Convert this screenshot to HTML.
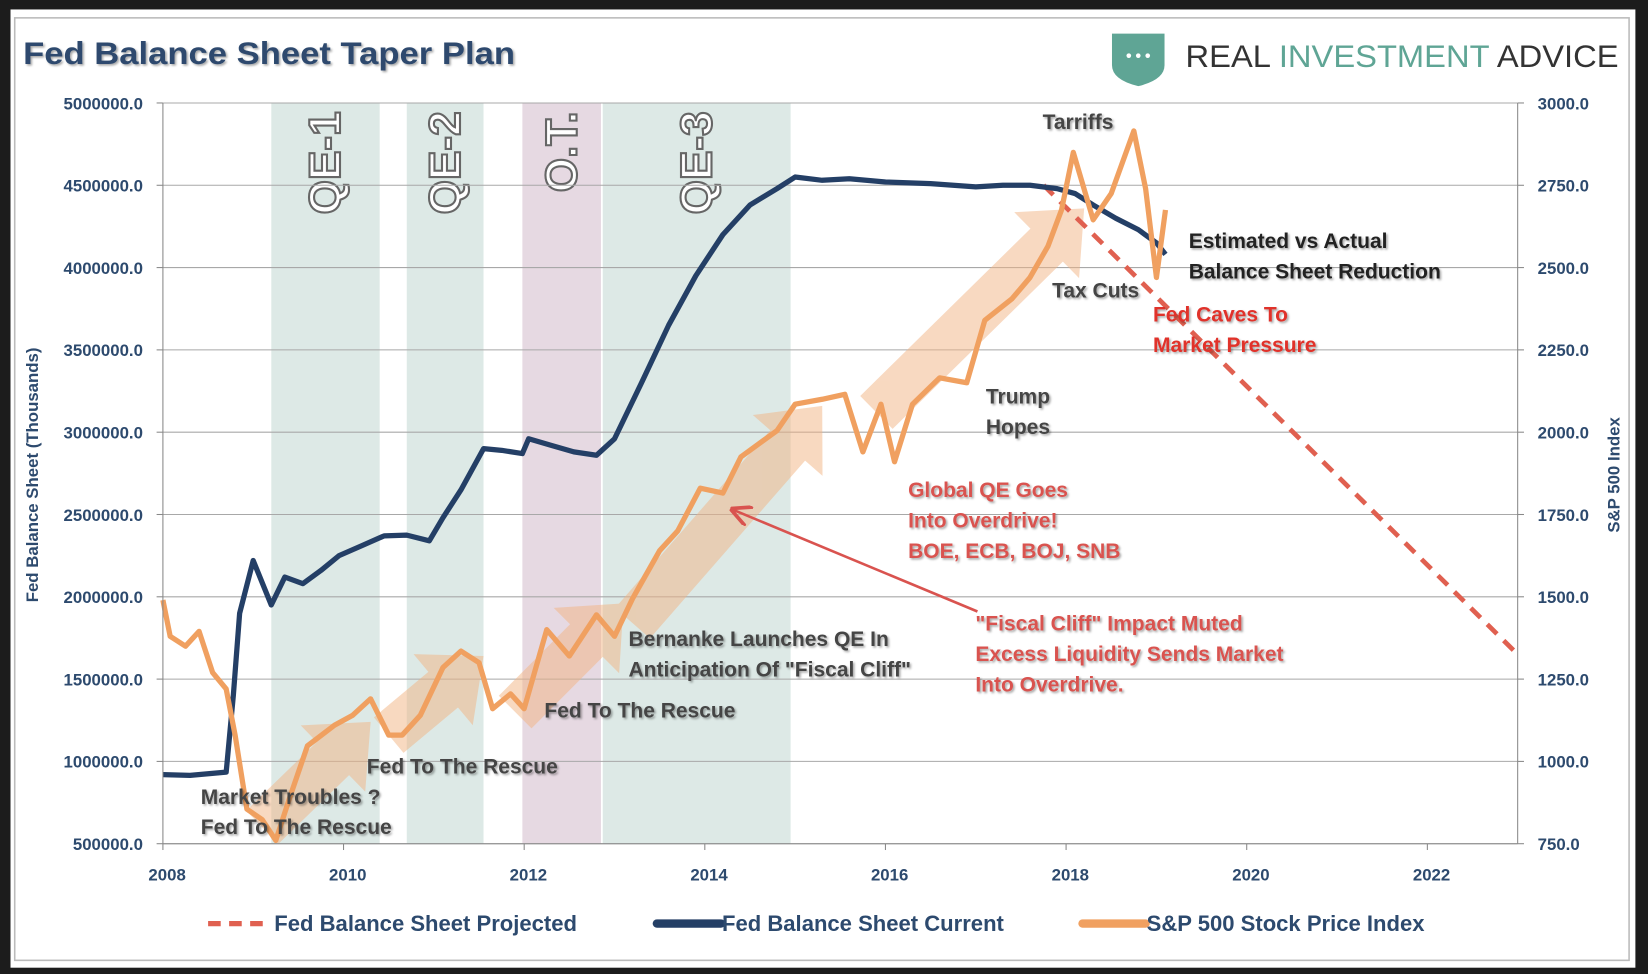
<!DOCTYPE html>
<html><head><meta charset="utf-8"><style>
html,body{margin:0;padding:0;background:#1c1c1c;}
svg{display:block;}
text{font-family:"Liberation Sans",sans-serif;}
.ann{font-weight:bold;font-size:20px;}
.tick{font-weight:bold;font-size:16px;fill:#2d4a6e;}
</style></head><body>
<svg id="chart" width="1648" height="974" viewBox="0 0 1568 927" preserveAspectRatio="none" xmlns="http://www.w3.org/2000/svg">
<defs>
<filter id="sh" x="-5%" y="-20%" width="110%" height="140%"><feDropShadow dx="1.5" dy="1.5" stdDeviation="1" flood-color="#000" flood-opacity="0.35"/></filter>
<marker id="ah" markerWidth="8" markerHeight="8" refX="7" refY="4" orient="auto"><path d="M0,0 L8,4 L0,8" fill="none" stroke="#d9534f" stroke-width="1.4"/></marker>
</defs>
<rect x="0" y="0" width="1568" height="927" fill="#1c1c1c"/>
<rect x="10" y="9" width="1546" height="912" fill="#fff"/>
<rect x="14" y="17" width="1536" height="897" fill="none" stroke="#bbb" stroke-width="1.5"/>
<text x="22" y="61" font-size="30" font-weight="bold" fill="#2d4a6e" textLength="468" lengthAdjust="spacingAndGlyphs" filter="url(#sh)">Fed Balance Sheet Taper Plan</text>
<g>
<path d="M1058,32 L1108,32 L1108,62 Q1108,76 1083,82 Q1058,76 1058,62 Z" fill="#5fa595"/>
<circle cx="1074" cy="53" r="2.2" fill="#fff"/><circle cx="1083" cy="53" r="2.2" fill="#fff"/><circle cx="1092" cy="53" r="2.2" fill="#fff"/>
<text x="1128" y="64" font-size="30" textLength="412" lengthAdjust="spacingAndGlyphs"><tspan fill="#333">REAL </tspan><tspan fill="#5fa595">INVESTMENT</tspan><tspan fill="#333"> ADVICE</tspan></text>
</g>
<g id="bands"></g>
<g id="grid"></g>
<g id="arrows" opacity="0.5"></g>
<g id="series"></g>
<g id="axes"></g>
<g id="labels">
<text transform="translate(36,452) rotate(-90)" text-anchor="middle" font-size="16" font-weight="bold" fill="#2d4a6e">Fed Balance Sheet (Thousands)</text>
<text transform="translate(1541,452) rotate(-90)" text-anchor="middle" font-size="16" font-weight="bold" fill="#2d4a6e">S&amp;P 500 Index</text>
</g>
<g id="notes" filter="url(#sh)">
<text class="ann" x="992" y="123" fill="#444">Tarriffs</text>
<text class="ann" x="1131" y="236" fill="#222">Estimated vs Actual</text>
<text class="ann" x="1131" y="265" fill="#222">Balance Sheet Reduction</text>
<text class="ann" x="1001" y="283" fill="#444">Tax Cuts</text>
<text class="ann" x="1097" y="306" fill="#e0302a">Fed Caves To</text>
<text class="ann" x="1097" y="335" fill="#e0302a">Market Pressure</text>
<text class="ann" x="938" y="384" fill="#444">Trump</text>
<text class="ann" x="938" y="413" fill="#444">Hopes</text>
<text class="ann" x="864" y="473" fill="#d9534f">Global QE Goes</text>
<text class="ann" x="864" y="502" fill="#d9534f">Into Overdrive!</text>
<text class="ann" x="864" y="531" fill="#d9534f">BOE, ECB, BOJ, SNB</text>
<text class="ann" x="928" y="600" fill="#d9534f">"Fiscal Cliff" Impact Muted</text>
<text class="ann" x="928" y="629" fill="#d9534f">Excess Liquidity Sends Market</text>
<text class="ann" x="928" y="658" fill="#d9534f">Into Overdrive.</text>
<text class="ann" x="598" y="615" fill="#444">Bernanke Launches QE In</text>
<text class="ann" x="598" y="644" fill="#444">Anticipation Of "Fiscal Cliff"</text>
<text class="ann" x="518" y="683" fill="#444">Fed To The Rescue</text>
<text class="ann" x="349" y="736" fill="#444">Fed To The Rescue</text>
<text class="ann" x="191" y="765" fill="#444">Market Troubles ?</text>
<text class="ann" x="191" y="794" fill="#444">Fed To The Rescue</text>
</g>
<line x1="930" y1="582" x2="697" y2="485" stroke="#d9534f" stroke-width="2.5" marker-end="url(#ah)"/>
<g id="legend" font-size="21" font-weight="bold" fill="#2d4a6e">
<line x1="198" y1="879" x2="258" y2="879" stroke="#e06050" stroke-width="5" stroke-dasharray="12,8"/>
<text x="261" y="886">Fed Balance Sheet Projected</text>
<line x1="625" y1="879" x2="686" y2="879" stroke="#243f66" stroke-width="8" stroke-linecap="round"/>
<text x="687" y="886">Fed Balance Sheet Current</text>
<line x1="1030" y1="879" x2="1090" y2="879" stroke="#f0a060" stroke-width="8" stroke-linecap="round"/>
<text x="1091" y="886">S&amp;P 500 Stock Price Index</text>
</g>
</svg>
<script>
const leftTicks=[500000,1000000,1500000,2000000,2500000,3000000,3500000,4000000,4500000,5000000];
const rightTicks=[750,1000,1250,1500,1750,2000,2250,2500,2750,3000];
const yearTicks=[2008,2010,2012,2014,2016,2018,2020,2022];
const bandNames=["QE-1","QE-2","O.T.","QE-3"];
const bandStart=[2009.2,2010.7,2011.98,2012.87];
const bandEnd=[2010.4,2011.55,2012.85,2014.95];
const fedYears=[2008.0,2008.3,2008.5,2008.7,2008.78,2008.85,2009.0,2009.2,2009.35,2009.55,2009.75,2009.95,2010.2,2010.45,2010.7,2010.95,2011.1,2011.3,2011.55,2011.75,2011.98,2012.05,2012.3,2012.55,2012.8,2013.0,2013.3,2013.6,2013.9,2014.2,2014.5,2014.8,2015.0,2015.3,2015.6,2016.0,2016.5,2017.0,2017.3,2017.6,2017.9,2018.1,2018.3,2018.55,2018.8,2019.0,2019.1];
const fedValues=[920000,915000,925000,935000,1400000,1900000,2220000,1950000,2120000,2080000,2160000,2250000,2310000,2370000,2375000,2340000,2480000,2650000,2900000,2890000,2870000,2960000,2920000,2880000,2860000,2960000,3300000,3650000,3950000,4200000,4380000,4480000,4550000,4530000,4540000,4520000,4510000,4490000,4500000,4500000,4480000,4450000,4380000,4300000,4230000,4150000,4080000];
const projYears=[2017.75,2023.0];
const projValues=[4500000,1650000];
const spYears=[2008.0,2008.08,2008.25,2008.4,2008.55,2008.7,2008.8,2008.93,2009.1,2009.25,2009.4,2009.6,2009.9,2010.1,2010.3,2010.5,2010.65,2010.85,2011.1,2011.3,2011.5,2011.65,2011.85,2012.0,2012.25,2012.5,2012.8,2013.0,2013.2,2013.5,2013.7,2013.95,2014.2,2014.4,2014.8,2015.0,2015.3,2015.55,2015.75,2015.95,2016.1,2016.3,2016.6,2016.9,2017.1,2017.4,2017.6,2017.8,2017.95,2018.08,2018.3,2018.5,2018.75,2018.88,2019.0,2019.1];
const spValues=[1490,1380,1350,1395,1270,1220,1080,855,823,760,887,1047,1110,1140,1190,1080,1080,1140,1285,1335,1300,1160,1205,1160,1400,1320,1445,1380,1495,1640,1700,1830,1815,1925,2005,2085,2100,2115,1940,2085,1910,2085,2165,2150,2340,2405,2470,2565,2675,2850,2645,2725,2915,2740,2470,2675];
const NS="http://www.w3.org/2000/svg";
const X0=155,X1=1444,YT=98,YB=803;
const xs=y=>X0+(y-2008)/15*(X1-X0);
const yl=v=>YB-(v-500000)/4500000*(YB-YT);
const yr=v=>YB-(v-750)/2250*(YB-YT);
function mk(tag,parent,attrs){const e=document.createElementNS(NS,tag);for(const k in attrs)e.setAttribute(k,attrs[k]);document.getElementById(parent).appendChild(e);return e;}
bandNames.forEach((n,i)=>{
 const r=mk('rect','bands',{x:xs(bandStart[i]),y:YT,width:xs(bandEnd[i])-xs(bandStart[i]),height:YB-YT,fill:n==="O.T."?"#e6d9e2":"#dde9e6"});
 
 
 const cx=(xs(bandStart[i])+xs(bandEnd[i]))/2;
 const t=mk('text','bands',{transform:`translate(${cx+14},${YT+8}) rotate(-90)`,'text-anchor':'end','font-size':'42','font-weight':'bold',fill:'#fff',stroke:'#666','stroke-width':'2'});
 t.textContent=n;
 
 
});
leftTicks.forEach((v,i)=>{
 const g=mk('line','grid',{x1:X0,x2:X1,y1:yl(v),y2:yl(v),stroke:'#a8a8a8','stroke-width':'1'});
 
 
 const t=mk('text','axes',{x:136,y:yl(v)+6,'text-anchor':'end',class:'tick'});t.textContent=v.toFixed(1);
 
 
 mk('line','axes',{x1:X0-6,x2:X0,y1:yl(v),y2:yl(v),stroke:'#888'});
});
rightTicks.forEach(v=>{
 const t=mk('text','axes',{x:1463,y:yr(v)+6,class:'tick'});t.textContent=v.toFixed(1);
 
 
 mk('line','axes',{x1:X1,x2:X1+6,y1:yr(v),y2:yr(v),stroke:'#888'});
});
mk('line','axes',{x1:X0,x2:X0,y1:YT,y2:YB,stroke:'#888'});
mk('line','axes',{x1:X1,x2:X1,y1:YT,y2:YB,stroke:'#888'});
mk('line','axes',{x1:X0,x2:X1,y1:YB,y2:YB,stroke:'#888'});
yearTicks.forEach(y=>{
 mk('line','axes',{x1:xs(y),x2:xs(y),y1:YB,y2:YB+6,stroke:'#888'});
 const t=mk('text','axes',{x:xs(y)+4,y:838,'text-anchor':'middle',class:'tick'});t.textContent=y;
 
 
});
const arrowSegs=[[2009.1,800,2010.3,1120],[2010.5,1080,2011.55,1320],[2011.9,1150,2013.1,1480],[2013.2,1420,2015.3,2080],[2015.9,2060,2018.2,2680]];
arrowSegs.forEach(s=>{
 const x1=xs(s[0]),y1=yr(s[1]),x2=xs(s[2]),y2=yr(s[3]);
 const dx=x2-x1,dy=y2-y1,L=Math.hypot(dx,dy),ux=dx/L,uy=dy/L,px=-uy,py=ux,w=22,hw=44,hl=50;
 const bx=x2-ux*hl,by=y2-uy*hl;
 const pts=[[x1+px*w,y1+py*w],[bx+px*w,by+py*w],[bx+px*hw,by+py*hw],[x2,y2],[bx-px*hw,by-py*hw],[bx-px*w,by-py*w],[x1-px*w,y1-py*w]];
 const p=mk('polygon','arrows',{points:pts.map(q=>q.join(',')).join(' '),fill:'#f2b483'});
 
 
});
const path=(xsA,ysA,f)=>xsA.map((x,i)=>(i?'L':'M')+xs(x).toFixed(1)+','+f(ysA[i]).toFixed(1)).join(' ');
const pr=mk('path','series',{d:path(projYears,projValues,yl),stroke:'#e06050','stroke-width':'4.5','stroke-dasharray':'13,9',fill:'none'});


const fd=mk('path','series',{d:path(fedYears,fedValues,yl),stroke:'#243f66','stroke-width':'5','stroke-linejoin':'round',fill:'none'});


const sp=mk('path','series',{d:path(spYears,spValues,yr),stroke:'#f0a060','stroke-width':'5','stroke-linejoin':'round',fill:'none'});


</script>
</body></html>
